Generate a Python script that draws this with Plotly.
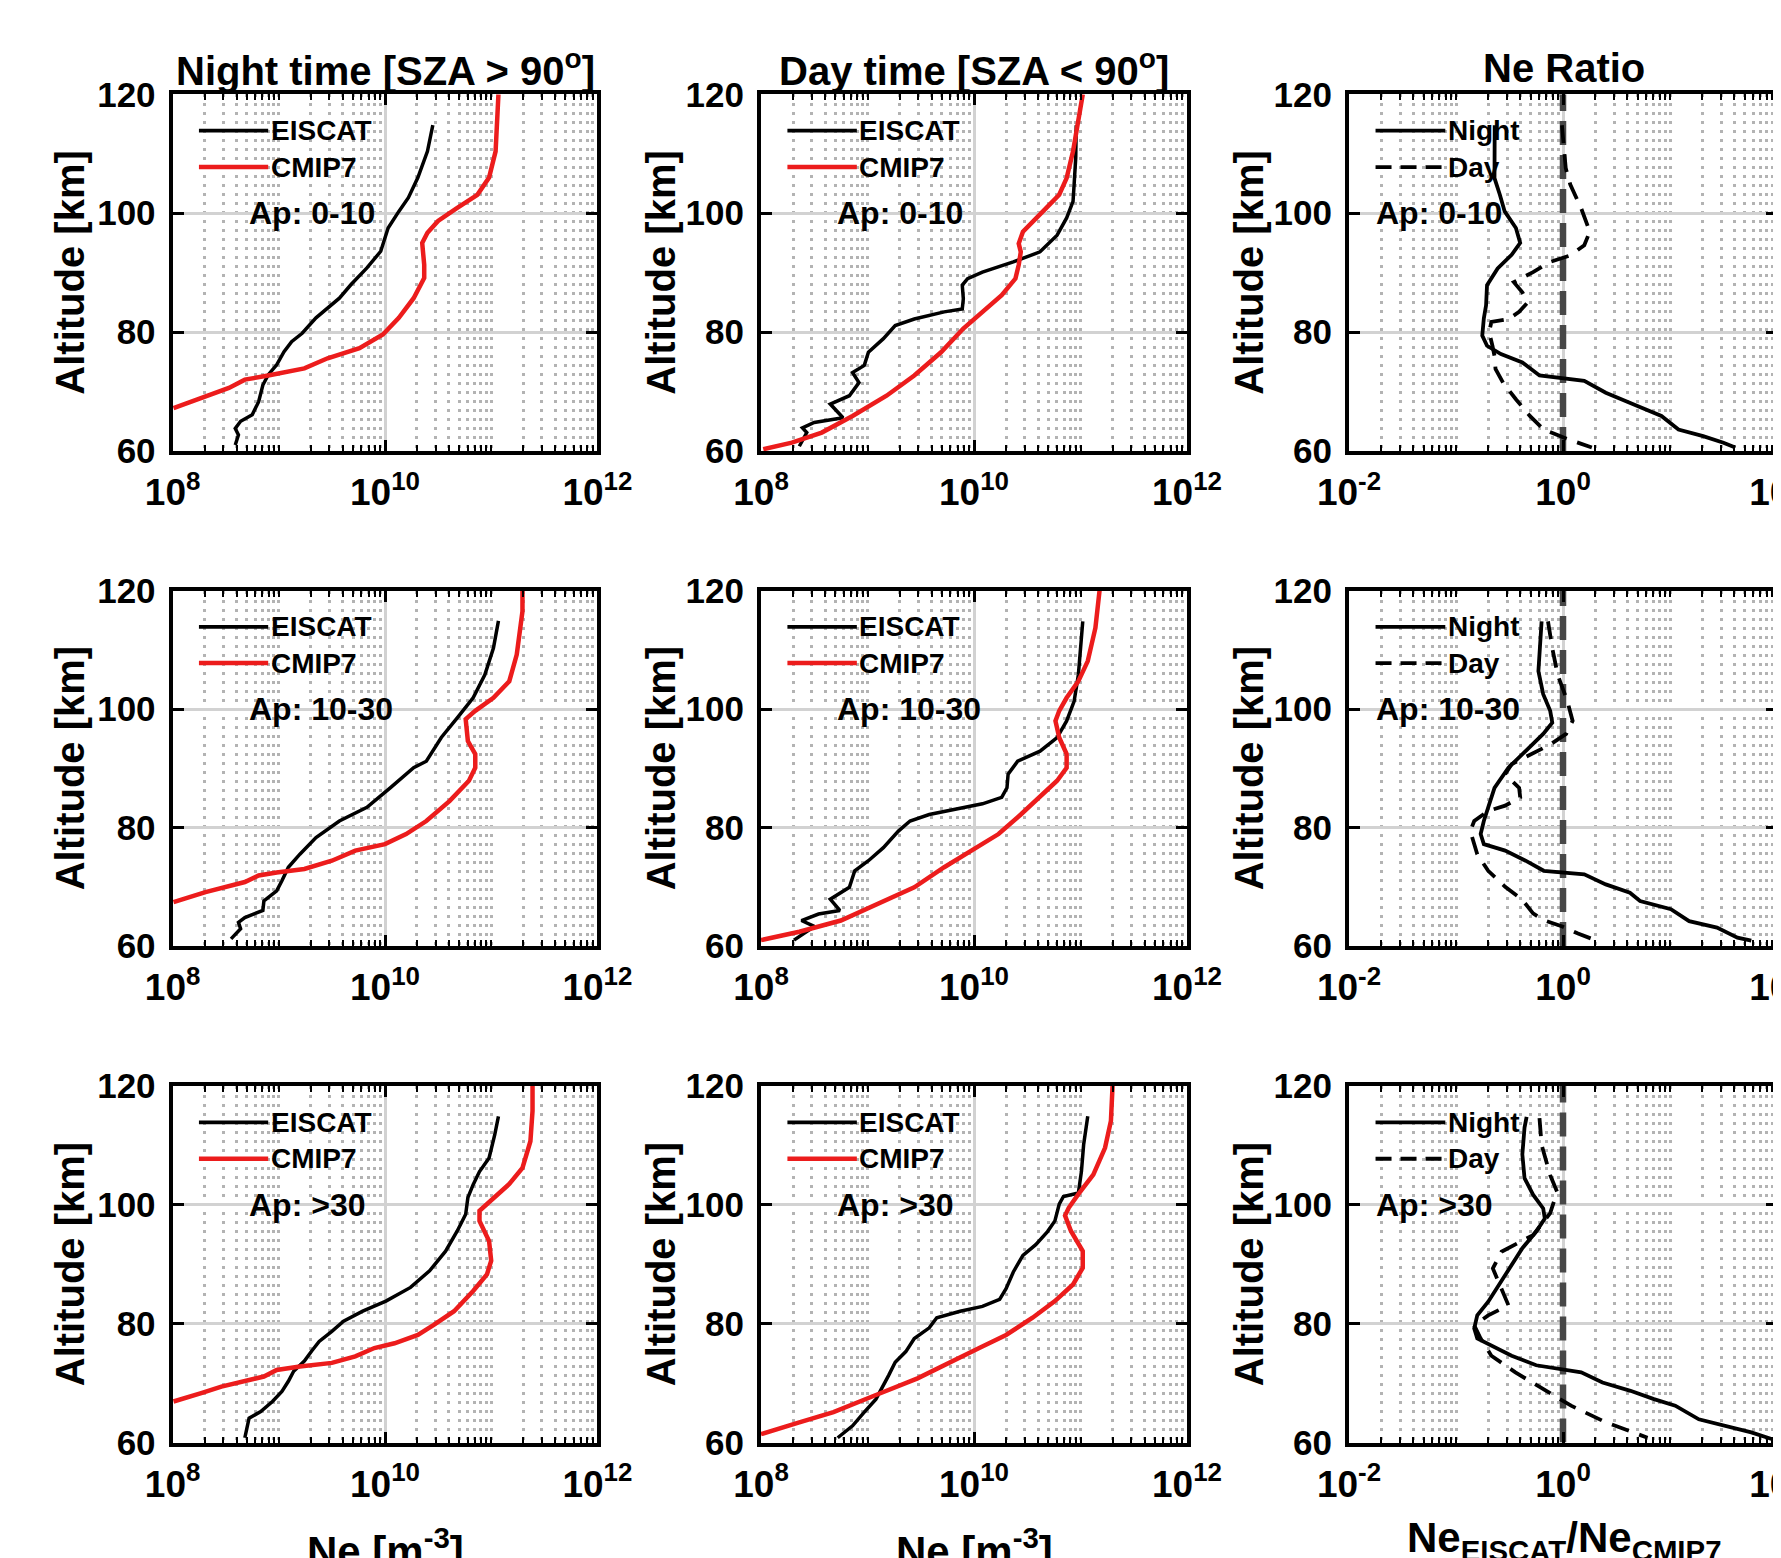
import plotly.graph_objects as go

# ===================== DATA =====================
# ---- Row 1 : Ap 0-10 ----
alt_n_eis_1 = [114.8, 110.4, 106.0, 102.6, 100.3, 97.5, 93.6, 90.8, 88.0, 85.7, 82.4, 79.8, 78.4, 76.7, 74.5, 72.8, 71.1, 68.3, 66.1, 65.0, 63.8, 62.7, 61.0]
ne_n_eis_1 = [2.82e10, 2.51e10, 2.04e10, 1.66e10, 1.35e10, 1.07e10, 9.12e9, 6.76e9, 4.79e9, 3.72e9, 2.24e9, 1.66e9, 1.32e9, 1.12e9, 9.55e8, 7.94e8, 7.08e8, 6.46e8, 5.62e8, 4.37e8, 3.89e8, 4.17e8, 3.89e8]
alt_n_cmp_1 = [120, 116, 110.4, 106, 103.1, 100.9, 98.7, 96.7, 95, 91.3, 89.1, 85.7, 82.4, 79.6, 77.3, 75.6, 73.9, 72.7, 72.0, 70.6, 68.9, 67.2]
ne_n_cmp_1 = [1.17e11, 1.15e11, 1.10e11, 9.55e10, 7.41e10, 4.79e10, 3.16e10, 2.51e10, 2.24e10, 2.34e10, 2.34e10, 1.86e10, 1.35e10, 9.55e9, 5.75e9, 2.88e9, 1.74e9, 7.94e8, 4.79e8, 3.39e8, 1.86e8, 1.02e8]
alt_d_eis_1 = [114.8, 109.3, 104.8, 102.0, 99.2, 96.3, 93.5, 91.8, 90.1, 89.0, 87.9, 85.6, 83.9, 83.4, 82.2, 81.1, 78.9, 76.6, 74.4, 73.2, 71.5, 69.3, 67.9, 65.6, 64.8, 63.9, 63.1, 60.8]
ne_d_eis_1 = [9.12e10, 9.02e10, 8.71e10, 8.51e10, 7.41e10, 6.03e10, 4.17e10, 2.34e10, 1.20e10, 8.71e9, 7.76e9, 7.94e9, 7.76e9, 5.25e9, 2.75e9, 1.82e9, 1.41e9, 1.02e9, 9.33e8, 7.24e8, 8.32e8, 6.76e8, 4.47e8, 5.89e8, 3.16e8, 2.45e8, 2.69e8, 2.29e8]
alt_d_cmp_1 = [120, 116, 110.4, 105.9, 103.1, 100.8, 98.6, 96.9, 94.9, 93.5, 91.3, 89.0, 86.2, 83.4, 80.6, 76.6, 72.7, 69.3, 65.9, 63.1, 61.4, 60.3]
ne_d_cmp_1 = [1.05e11, 9.55e10, 8.51e10, 7.41e10, 6.31e10, 4.73e10, 3.55e10, 2.88e10, 2.63e10, 2.75e10, 2.63e10, 2.45e10, 1.82e10, 1.20e10, 7.94e9, 4.90e9, 2.75e9, 1.51e9, 7.24e8, 3.72e8, 1.95e8, 1.05e8]
alt_rn_1 = [114.8, 111, 105.9, 103.1, 100.3, 97.5, 95, 93, 90.7, 87.9, 84.5, 82.3, 79.4, 77.7, 76.3, 74.9, 72.7, 71.8, 69.8, 67.6, 65.9, 63.6, 62.5, 61.4, 60.6]
ratio_n_1 = [0.23, 0.229, 0.229, 0.257, 0.285, 0.363, 0.398, 0.331, 0.245, 0.195, 0.191, 0.182, 0.176, 0.195, 0.263, 0.417, 0.603, 1.58, 2.51, 4.90, 8.32, 12.0, 20.4, 31.6, 40.7]
alt_rd_1 = [114.8, 107.6, 104.8, 100.8, 96.9, 94.6, 92.9, 91.8, 90.1, 88.4, 86.7, 85.0, 83.4, 82.2, 81.7, 80.0, 77.7, 76.0, 73.8, 71.5, 68.7, 65.9, 63.6, 62.0, 60.6]
ratio_d_1 = [0.977, 1.06, 1.17, 1.48, 1.78, 1.58, 1.17, 0.759, 0.525, 0.347, 0.417, 0.468, 0.389, 0.309, 0.214, 0.204, 0.219, 0.229, 0.234, 0.275, 0.363, 0.490, 0.661, 1.10, 1.86]

# ---- Row 2 : Ap 10-30 ----
alt_n_eis_2 = [114.9, 110.3, 105.8, 101.9, 98.5, 95.2, 91.2, 90.1, 86.7, 83.4, 81.1, 78.3, 75.5, 73.3, 71.0, 69.3, 67.6, 66.0, 64.8, 64.0, 62.9, 61.2]
ne_n_eis_2 = [1.17e11, 1.05e11, 8.71e10, 6.76e10, 4.79e10, 3.39e10, 2.45e10, 1.86e10, 1.12e10, 6.76e9, 3.72e9, 2.24e9, 1.58e9, 1.23e9, 1.07e9, 9.55e8, 7.24e8, 7.08e8, 4.79e8, 4.17e8, 4.37e8, 3.55e8]
alt_n_cmp_2 = [120, 116.5, 109.2, 104.7, 101.9, 99.7, 98.3, 94.6, 92.4, 90.1, 87.9, 84.5, 81.1, 78.9, 77.2, 76.1, 74.4, 73.0, 72.4, 71.9, 70.8, 69.1, 67.4]
ne_n_cmp_2 = [1.97e11, 1.97e11, 1.74e11, 1.48e11, 1.05e11, 7.08e10, 5.75e10, 6.03e10, 7.08e10, 7.08e10, 6.17e10, 4.07e10, 2.45e10, 1.58e10, 1.0e10, 5.25e9, 3.16e9, 1.74e9, 9.55e8, 6.46e8, 4.79e8, 2.04e8, 1.02e8]
alt_d_eis_2 = [114.8, 110.3, 105.8, 101.3, 98.0, 95.2, 92.9, 91.2, 89.0, 86.7, 85.1, 84.0, 83.4, 82.2, 81.1, 79.4, 76.6, 74.4, 72.7, 69.9, 67.9, 66.0, 65.4, 64.3, 63.3, 61.0]
ne_d_eis_2 = [1.05e11, 1.0e11, 9.55e10, 8.71e10, 7.41e10, 6.03e10, 4.17e10, 2.57e10, 2.09e10, 2.04e10, 1.82e10, 1.20e10, 7.94e9, 3.80e9, 2.51e9, 1.95e9, 1.41e9, 1.02e9, 7.59e8, 6.76e8, 4.47e8, 5.50e8, 3.47e8, 2.40e8, 3.16e8, 2.04e8]
alt_d_cmp_2 = [120, 113.7, 108.1, 104.7, 101.9, 99.7, 98.0, 95.2, 92.4, 90.1, 87.9, 85.1, 82.2, 78.9, 76.1, 73.3, 69.9, 66.9, 64.3, 62.4, 61.0]
ne_d_cmp_2 = [1.51e11, 1.38e11, 1.17e11, 9.55e10, 7.41e10, 6.31e10, 5.82e10, 6.31e10, 7.41e10, 7.41e10, 6.03e10, 4.17e10, 2.75e10, 1.70e10, 9.33e9, 5.25e9, 2.75e9, 1.20e9, 5.62e8, 2.29e8, 1.0e8]
alt_rn_2 = [114.8, 110.3, 106.4, 102.5, 99.7, 97.7, 95.8, 92.9, 90.1, 86.7, 83.4, 81.1, 78.9, 77.2, 76.1, 74.4, 72.7, 72.1, 70.4, 69.0, 67.6, 66.2, 64.2, 63.1, 61.4, 60.9]
ratio_n_2 = [0.631, 0.603, 0.589, 0.653, 0.759, 0.794, 0.653, 0.447, 0.309, 0.229, 0.200, 0.182, 0.170, 0.182, 0.288, 0.447, 0.661, 1.58, 2.51, 4.22, 5.25, 10.2, 15.1, 27.5, 42.7, 57.5]
alt_rd_2 = [114.8, 110.3, 105.8, 101.3, 98.0, 95.8, 94.0, 92.6, 90.7, 89.0, 86.7, 85.1, 83.7, 82.8, 81.1, 79.4, 77.2, 75.5, 72.7, 70.0, 67.8, 65.5, 64.4, 63.3, 62.1, 61.0]
ratio_d_2 = [0.724, 0.794, 0.891, 1.10, 1.23, 1.07, 0.759, 0.525, 0.331, 0.288, 0.389, 0.398, 0.288, 0.200, 0.148, 0.136, 0.148, 0.158, 0.200, 0.288, 0.417, 0.525, 0.653, 0.986, 1.38, 2.0]

# ---- Row 3 : Ap >30 ----
alt_n_eis_3 = [114.9, 111.8, 107.9, 105.6, 103.4, 101.2, 98.4, 95.6, 92.2, 88.9, 86.1, 83.8, 82.1, 80.4, 78.7, 77.0, 75.4, 73.7, 72.0, 70.3, 68.6, 66.9, 65.2, 64.1, 62.4, 60.8]
ne_n_eis_3 = [1.17e11, 1.08e11, 9.55e10, 7.76e10, 6.76e10, 6.03e10, 5.75e10, 4.79e10, 3.72e10, 2.63e10, 1.74e10, 1.02e10, 6.17e9, 4.07e9, 3.16e9, 2.40e9, 2.04e9, 1.74e9, 1.38e9, 1.23e9, 1.07e9, 8.71e8, 6.76e8, 5.25e8, 5.01e8, 4.79e8]
alt_n_cmp_3 = [120, 115.8, 110.7, 106.2, 103.5, 101.2, 99.0, 97.3, 93.9, 90.6, 88.3, 85.5, 82.1, 79.8, 78.1, 76.7, 75.9, 74.5, 73.4, 72.8, 72.2, 71.1, 69.4, 68.3, 66.9]
ne_n_cmp_3 = [2.45e11, 2.45e11, 2.34e11, 1.97e11, 1.48e11, 1.05e11, 7.76e10, 7.76e10, 9.55e10, 1.0e11, 9.12e10, 6.76e10, 4.47e10, 2.88e10, 2.04e10, 1.23e10, 7.94e9, 5.25e9, 3.16e9, 1.58e9, 9.55e8, 7.24e8, 2.88e8, 1.86e8, 1.02e8]
alt_d_eis_3 = [114.9, 110.1, 105.6, 102.0, 101.4, 100.1, 97.3, 95.5, 93.3, 91.5, 88.7, 85.9, 84.1, 82.9, 82.1, 81.0, 79.3, 77.5, 75.3, 73.5, 71.3, 69.6, 67.3, 65.1, 62.8, 60.8]
ne_d_eis_3 = [1.17e11, 1.07e11, 1.02e11, 9.55e10, 6.92e10, 6.31e10, 5.75e10, 4.90e10, 3.80e10, 2.88e10, 2.34e10, 2.0e10, 1.74e10, 1.20e10, 7.41e9, 4.47e9, 3.80e9, 2.75e9, 2.29e9, 1.82e9, 1.58e9, 1.41e9, 1.20e9, 9.33e8, 7.24e8, 5.25e8]
alt_d_cmp_3 = [120, 114.1, 109.6, 105.1, 101.8, 99.5, 98.2, 95.6, 92.2, 89.4, 86.6, 83.8, 81.0, 78.1, 75.9, 73.6, 70.8, 68.0, 65.1, 63.4, 61.4]
ne_d_cmp_3 = [2.0e11, 1.93e11, 1.70e11, 1.32e11, 9.55e10, 7.76e10, 7.16e10, 8.13e10, 1.05e11, 1.05e11, 8.51e10, 5.75e10, 3.55e10, 2.0e10, 1.12e10, 6.24e9, 2.95e9, 1.20e9, 4.79e8, 2.29e8, 1.0e8]
alt_rn_3 = [114.8, 113, 108.5, 104.5, 101.7, 99.4, 97.7, 95.5, 92.7, 89.9, 87.0, 83.7, 81.4, 79.2, 77.5, 76.3, 74.6, 73.0, 71.8, 70.1, 68.7, 67.3, 66.2, 63.9, 62.8, 61.7, 60.6]
ratio_n_3 = [0.457, 0.437, 0.417, 0.437, 0.525, 0.653, 0.676, 0.562, 0.417, 0.331, 0.266, 0.200, 0.158, 0.148, 0.158, 0.214, 0.331, 0.562, 1.48, 2.34, 4.27, 7.08, 11.2, 18.6, 31.6, 57.5, 89.1]
alt_rd_3 = [114.6, 110.1, 105.0, 102.2, 98.6, 94.9, 92.1, 89.3, 86.5, 83.1, 81.4, 79.7, 77.5, 74.6, 71.8, 69.0, 66.2, 63.4, 60.8]
ratio_d_3 = [0.603, 0.631, 0.759, 0.881, 0.759, 0.525, 0.266, 0.221, 0.257, 0.309, 0.200, 0.148, 0.170, 0.214, 0.359, 0.653, 1.19, 2.51, 6.17]

# reference line (ratio = 1)
ref_ratio = [1, 1]
ref_alt = [60, 120]

# labels / ticks
ap_labels = ["Ap: 0-10", "Ap: 10-30", "Ap: &gt;30"]
col_titles = ["Night time [SZA &gt; 90<sup>o</sup>]", "Day time [SZA &lt; 90<sup>o</sup>]", "Ne Ratio"]
ne_tickvals = [1e8, 1e10, 1e12]
ne_ticktext = ["10<sup>8</sup>", "10<sup>10</sup>", "10<sup>12</sup>"]
ratio_tickvals = [1e-2, 1e0, 1e2]
ratio_ticktext = ["10<sup>-2</sup>", "10<sup>0</sup>", "10<sup>2</sup>"]
alt_tickvals = [60, 80, 100, 120]
alt_ticktext = ["60", "80", "100", "120"]
ylabel = "Altitude [km]"
xlabel_ne = "Ne [m<sup>-3</sup>]"
xlabel_ratio = "Ne<sub>EISCAT</sub>/Ne<sub>CMIP7</sub>"
leg_ne = ["EISCAT", "CMIP7"]
leg_ratio = ["Night", "Day"]

# ===================== STYLE / LAYOUT =====================
W, H = 1781, 1558
OFF = 8  # page body margin offset of the figure in the browser
FONT = "Liberation Sans"
RED = "#ec1c1c"
# target pixel positions on the page
col_px = [(172.6, 597.4), (761.0, 1187.0), (1349.0, 1777.0)]
row_px = [(94.3, 451.0), (590.6, 946.0), (1086.0, 1442.5)]


def fx(v):
    return (v - OFF) / W


def fy(v):
    return 1 - (v - OFF) / H


ne_minor = [m * 10.0 ** e for e in range(8, 12) for m in range(2, 10)] + [1e9, 1e11]
ratio_minor = [m * 10.0 ** e for e in range(-2, 2) for m in range(2, 10)] + [1e-1, 1e1]

rows = [
    (alt_n_eis_1, ne_n_eis_1, alt_n_cmp_1, ne_n_cmp_1, alt_d_eis_1, ne_d_eis_1, alt_d_cmp_1, ne_d_cmp_1, alt_rn_1, ratio_n_1, alt_rd_1, ratio_d_1),
    (alt_n_eis_2, ne_n_eis_2, alt_n_cmp_2, ne_n_cmp_2, alt_d_eis_2, ne_d_eis_2, alt_d_cmp_2, ne_d_cmp_2, alt_rn_2, ratio_n_2, alt_rd_2, ratio_d_2),
    (alt_n_eis_3, ne_n_eis_3, alt_n_cmp_3, ne_n_cmp_3, alt_d_eis_3, ne_d_eis_3, alt_d_cmp_3, ne_d_cmp_3, alt_rn_3, ratio_n_3, alt_rd_3, ratio_d_3),
]

fig = go.Figure()
layout = dict(
    width=W, height=H, margin=dict(l=0, r=0, t=0, b=0, pad=0, autoexpand=False),
    paper_bgcolor="white", plot_bgcolor="white", showlegend=False,
    font=dict(family=FONT, color="black", size=30, weight="bold"),
)
annotations = []
shapes = []

common = dict(
    showline=True, linecolor="black", linewidth=4, mirror="allticks",
    ticks="inside", ticklen=11, tickwidth=3, tickcolor="black",
    showgrid=True, gridcolor="#d2d2d2", gridwidth=3, zeroline=False,
    automargin=False,
)

for r in range(3):
    data = rows[r]
    for c in range(3):
        k = r * 3 + c + 1
        xn = "x" if k == 1 else f"x{k}"
        yn = "y" if k == 1 else f"y{k}"
        xkey = "xaxis" if k == 1 else f"xaxis{k}"
        ykey = "yaxis" if k == 1 else f"yaxis{k}"
        is_ratio = c == 2
        minor = dict(
            tickvals=ratio_minor if is_ratio else ne_minor,
            ticks="inside", ticklen=6, tickwidth=2, tickcolor="black",
            showgrid=True, gridcolor="#b3b3b3", gridwidth=3, griddash="3px,6px",
        )
        layout[xkey] = dict(
            domain=[fx(col_px[c][0]), fx(col_px[c][1])], anchor=yn, type="log",
            range=[-2, 2] if is_ratio else [8, 12],
            tickmode="array",
            tickvals=ratio_tickvals if is_ratio else ne_tickvals,
            ticktext=ratio_ticktext if is_ratio else ne_ticktext,
            ticklabeloverflow="allow", ticklabelstandoff=6,
            tickfont=dict(family=FONT, size=37, color="black", weight="bold"),
            minor=minor, **common,
        )
        layout[ykey] = dict(
            domain=[fy(row_px[r][1]), fy(row_px[r][0])], anchor=xn,
            range=[60, 120], tickmode="array", tickvals=alt_tickvals, ticktext=alt_ticktext,
            ticklabelstandoff=6,
            tickfont=dict(family=FONT, size=35, color="black", weight="bold"),
            **common,
        )

        if c == 0:
            fig.add_trace(go.Scatter(x=data[1], y=data[0], mode="lines", line=dict(color="black", width=3.5), xaxis=xn, yaxis=yn, name=leg_ne[0]))
            fig.add_trace(go.Scatter(x=data[3], y=data[2], mode="lines", line=dict(color=RED, width=4.5), xaxis=xn, yaxis=yn, name=leg_ne[1]))
        elif c == 1:
            fig.add_trace(go.Scatter(x=data[5], y=data[4], mode="lines", line=dict(color="black", width=3.5), xaxis=xn, yaxis=yn, name=leg_ne[0]))
            fig.add_trace(go.Scatter(x=data[7], y=data[6], mode="lines", line=dict(color=RED, width=4.5), xaxis=xn, yaxis=yn, name=leg_ne[1]))
        else:
            fig.add_trace(go.Scatter(x=ref_ratio, y=ref_alt, mode="lines", line=dict(color="#474747", width=6.5, dash="24px,10px"), xaxis=xn, yaxis=yn, name="ratio = 1"))
            fig.add_trace(go.Scatter(x=data[9], y=data[8], mode="lines", line=dict(color="black", width=3.8), xaxis=xn, yaxis=yn, name=leg_ratio[0]))
            fig.add_trace(go.Scatter(x=data[11], y=data[10], mode="lines", line=dict(color="black", width=3.8, dash="18px,11px"), xaxis=xn, yaxis=yn, name=leg_ratio[1]))

        # in-axes legend (line samples + labels)
        xd = f"{xn} domain"
        yd = f"{yn} domain"
        labels = leg_ratio if is_ratio else leg_ne
        styles = ([dict(color="black", width=3.8), dict(color="black", width=3.8, dash="16px,9px")]
                  if is_ratio else [dict(color="black", width=3.8), dict(color=RED, width=4.5)])
        for i, yy in enumerate([0.898, 0.796]):
            shapes.append(dict(type="line", xref=xd, yref=yd, x0=0.062, x1=0.225, y0=yy, y1=yy, line=styles[i]))
            annotations.append(dict(xref=xd, yref=yd, x=0.226, y=yy, xanchor="left", yanchor="middle", showarrow=False,
                                    text=labels[i], font=dict(family=FONT, size=28, color="black", weight="bold")))
        annotations.append(dict(xref=xd, yref=yd, x=0.058 if is_ratio else 0.174, y=0.666, xanchor="left", yanchor="middle",
                                showarrow=False, text=ap_labels[r], font=dict(family=FONT, size=32, color="black", weight="bold")))

        # y-axis title
        ylab_x = [70, 661, 1249][c]
        annotations.append(dict(xref="paper", yref="paper", x=fx(ylab_x), y=fy((row_px[r][0] + row_px[r][1]) / 2),
                                xanchor="center", yanchor="middle", textangle=-90, showarrow=False, text=ylabel,
                                font=dict(family=FONT, size=40, color="black", weight="bold")))

# column titles
for c in range(3):
    cx = (col_px[c][0] + col_px[c][1]) / 2
    if c == 2:
        cx = 1564
    annotations.append(dict(xref="paper", yref="paper", x=fx(cx), y=fy(68), xanchor="center", yanchor="middle",
                            showarrow=False, text=col_titles[c], font=dict(family=FONT, size=40, color="black", weight="bold")))

# bottom x-axis titles
for c in range(3):
    cx = (col_px[c][0] + col_px[c][1]) / 2
    if c == 2:
        cx = 1564
    annotations.append(dict(xref="paper", yref="paper", x=fx(cx), y=fy(1540 if c == 2 else 1548), xanchor="center", yanchor="middle",
                            showarrow=False, text=xlabel_ratio if c == 2 else xlabel_ne,
                            font=dict(family=FONT, size=42, color="black", weight="bold")))

layout["annotations"] = annotations
layout["shapes"] = shapes
fig.update_layout(**layout)
fig.write_html("out.html")
